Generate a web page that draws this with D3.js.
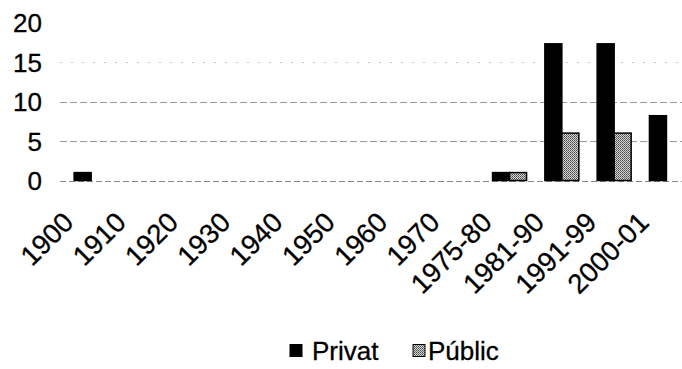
<!DOCTYPE html>
<html>
<head>
<meta charset="utf-8">
<script src="https://cdn.jsdelivr.net/npm/d3@7"></script>
<style>
  html, body { margin: 0; padding: 0; background: #fff; }
  svg { display: block; }
  text { font-family: "Liberation Sans", Arial, sans-serif; fill: #000; stroke: #000; stroke-width: 0.3px; }
</style>
</head>
<body>
<svg id="chart" width="682" height="369"></svg>
<script>
// Periods on the category axis
const categories = ["1900", "1910", "1920", "1930", "1940", "1950", "1960", "1970",
                    "1975-80", "1981-90", "1991-99", "2000-01"];
// Series values per period
const privat = [1, 0, 0, 0, 0, 0, 0, 0, 1, 17.3, 17.3, 8.2];
const public_ = [0, 0, 0, 0, 0, 0, 0, 0, 1, 6, 6, 0];
const seriesNames = ["Privat", "Públic"];
const yTicks = [0, 5, 10, 15, 20];

const svg = d3.select("#chart");
const fontSize = "26px";
const catFontSize = "27.5px";

const x = d3.scaleBand().domain(categories).range([65, 692.6]).paddingInner(0).paddingOuter(0);
const barW = x.bandwidth() * 0.325;
const y = d3.scaleLinear().domain([0, 20]).range([180.5, 22.5]);

// Fill for the public series: fine stippled gray
const defs = svg.append("defs");
const pat = defs.append("pattern").attr("id", "stipple")
  .attr("patternUnits", "userSpaceOnUse").attr("width", 2).attr("height", 2);
pat.append("rect").attr("width", 2).attr("height", 2).attr("fill", "#d8d8d8");
pat.append("rect").attr("x", 0).attr("y", 0).attr("width", 1).attr("height", 1).attr("fill", "#444");
pat.append("rect").attr("x", 1).attr("y", 1).attr("width", 1).attr("height", 1).attr("fill", "#6a6a6a");

// Horizontal gridlines
const grid = svg.append("g");
grid.selectAll("line").data(yTicks.filter(d => d > 0 && d < 20)).join("line")
  .attr("x1", 60).attr("x2", 682)
  .attr("y1", d => Math.round(y(d)) + 0.5).attr("y2", d => Math.round(y(d)) + 0.5)
  .attr("stroke", d => d === 15 ? "#c8c8c8" : "#9a9a9a")
  .attr("stroke-width", 1)
  .attr("stroke-dasharray", d => d === 15 ? "2,9" : "7,3");

// Baseline
svg.append("line")
  .attr("x1", 60).attr("x2", 682)
  .attr("y1", Math.round(y(0)) + 0.5).attr("y2", Math.round(y(0)) + 0.5)
  .attr("stroke", "#8a8a8a").attr("stroke-dasharray", "6,3");

// Y axis labels (no axis line drawn)
const yAxis = d3.axisLeft(y).tickValues(yTicks).tickSize(0).tickPadding(0);
const yg = svg.append("g").attr("transform", "translate(42,0)").call(yAxis);
yg.select(".domain").remove();
yg.selectAll("text")
  .attr("x", 0).attr("dy", "0.35em")
  .attr("text-anchor", "end")
  .style("font-size", fontSize)
  .style("font-family", "'Liberation Sans', Arial, sans-serif");

// Bars
const seriesData = [privat, public_];
const fills = ["#000", "url(#stipple)"];
seriesData.forEach((vals, s) => {
  svg.append("g").selectAll("rect")
    .data(categories.map((c, i) => ({ c, v: vals[i] })).filter(d => d.v > 0))
    .join("rect")
    .attr("x", d => x(d.c) + x.bandwidth() / 2 - barW + s * barW)
    .attr("y", d => y(d.v))
    .attr("width", barW)
    .attr("height", d => y(0) - y(d.v))
    .attr("fill", fills[s])
    .attr("stroke", "#000")
    .attr("stroke-width", 1.5);
});

// Category labels, slanted
const xAxis = d3.axisBottom(x).tickSize(0).tickPadding(0);
const xg = svg.append("g").call(xAxis);
xg.select(".domain").remove();
xg.selectAll(".tick").attr("transform", null);
xg.selectAll("text")
  .attr("y", 0).attr("dy", 0)
  .attr("text-anchor", "end")
  .attr("transform", d => `translate(${x(d) + x.bandwidth() / 2 - 16},224) rotate(-45)`)
  .style("font-size", catFontSize)
  .style("font-family", "'Liberation Sans', Arial, sans-serif");

// Legend
const legend = svg.append("g");
const legendItems = [
  { name: seriesNames[0], fill: "#000", box: 290, tx: 312 },
  { name: seriesNames[1], fill: "url(#stipple)", box: 413, tx: 428 }
];
legendItems.forEach(it => {
  legend.append("rect").attr("x", it.box).attr("y", 344.5).attr("width", 12).attr("height", 12)
    .attr("fill", it.fill).attr("stroke", "#000").attr("stroke-width", 1);
  legend.append("text").attr("x", it.tx).attr("y", 360)
    .style("font-size", fontSize).text(it.name);
});
</script>
</body>
</html>
